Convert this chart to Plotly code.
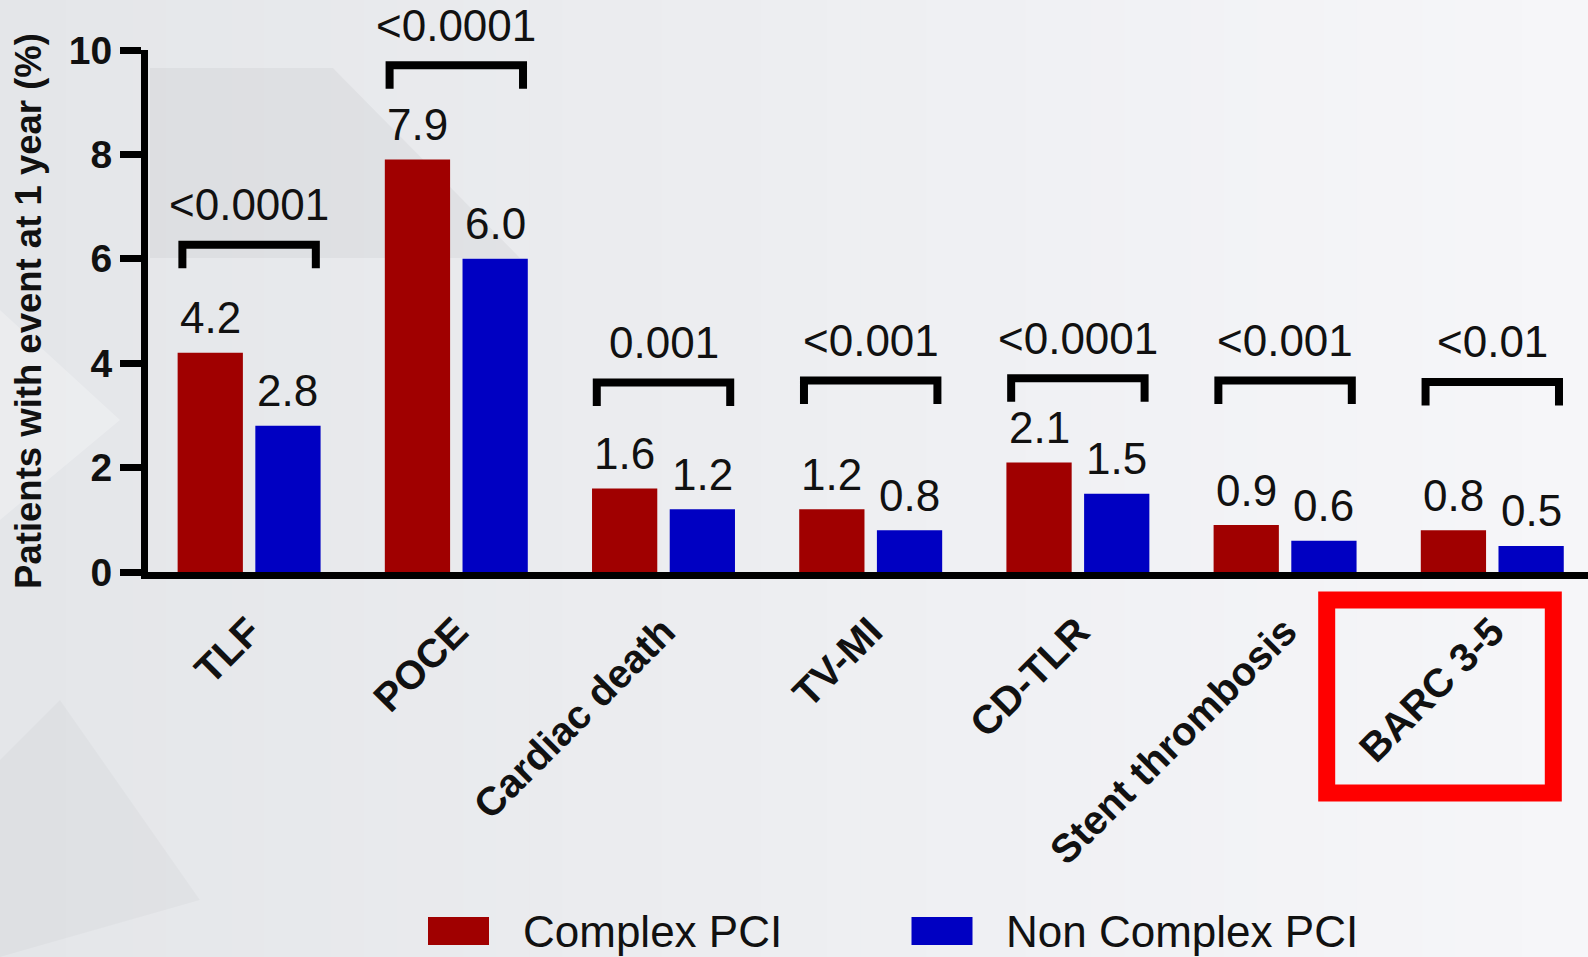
import numpy as np
import plotly.graph_objects as go

# ---------------- data ----------------
categories = ["TLF", "POCE", "Cardiac death", "TV-MI", "CD-TLR", "Stent thrombosis", "BARC 3-5"]
complex_pci = [4.2, 7.9, 1.6, 1.2, 2.1, 0.9, 0.8]
non_complex_pci = [2.8, 6.0, 1.2, 0.8, 1.5, 0.6, 0.5]
p_values = ["<0.0001", "<0.0001", "0.001", "<0.001", "<0.0001", "<0.001", "<0.01"]
bracket_levels = [6.27, 9.71, 3.63, 3.67, 3.71, 3.67, 3.64]
series_names = ["Complex PCI", "Non Complex PCI"]
y_ticks = [0, 2, 4, 6, 8, 10]
y_title = "Patients with event at 1 year (%)"

# ---------------- style ----------------
RED = "#A00000"
BLUE = "#0000C2"
FONT = "Arial, 'Liberation Sans', sans-serif"
W, H = 1588, 957
ML, MR, MT, MB = 148, 0, 50, 385
PW, PH = W - ML - MR, H - MT - MB
BARGAP, GROUPGAP = 0.25, 0.16
SLOT = (1 - BARGAP) / 2
BR_HALF, BR_LEG = 0.322, 0.45


def px(xp):
    return (xp - ML) / PW


def py(yp):
    return (H - MB - yp) / PH


x = np.arange(len(categories))

fig = go.Figure()
fig.add_bar(x=x, y=complex_pci, name=series_names[0], marker_color=RED,
            marker_line_width=0, showlegend=False)
fig.add_bar(x=x, y=non_complex_pci, name=series_names[1], marker_color=BLUE,
            marker_line_width=0, showlegend=False)

shapes = []
annotations = []

# background gradient (light grey, darker on the left)
c0 = np.array([0xE4, 0xE6, 0xE9])
c1 = np.array([0xF6, 0xF6, 0xF9])
N = 48
for k in range(N):
    t = k / (N - 1)
    c = (c0 * (1 - t) + c1 * t).round().astype(int)
    shapes.append(dict(type="rect", xref="paper", yref="paper",
                       x0=px(W * k / N), x1=px(W * (k + 1) / N + 1),
                       y0=py(H + 5), y1=py(-5), line_width=0,
                       fillcolor="rgb(%d,%d,%d)" % tuple(c), layer="below"))

# faint decorative background facets
def poly(points, color):
    d = "M " + " L ".join("%f,%f" % (px(a), py(b)) for a, b in points) + " Z"
    shapes.append(dict(type="path", xref="paper", yref="paper", path=d,
                       line_width=0, fillcolor=color, layer="below"))


poly([(150, 68), (333, 68), (520, 258), (150, 258)], "rgba(0,0,0,0.035)")
poly([(0, 310), (120, 420), (0, 520)], "rgba(255,255,255,0.25)")
poly([(60, 700), (200, 900), (0, 957), (0, 760)], "rgba(0,0,0,0.025)")

# value labels
for i in range(len(categories)):
    for val, off in ((complex_pci[i], -SLOT / 2), (non_complex_pci[i], SLOT / 2)):
        annotations.append(dict(x=x[i] + off, y=val, xref="x", yref="y",
                                text="%.1f" % val, showarrow=False,
                                yanchor="middle", xanchor="center", yshift=35,
                                font=dict(family=FONT, size=44, color="#111111")))

# significance brackets and p-values
for i in range(len(categories)):
    lv = bracket_levels[i]
    x0, x1 = x[i] - BR_HALF, x[i] + BR_HALF
    path = "M %f,%f L %f,%f L %f,%f L %f,%f" % (x0, lv - BR_LEG, x0, lv, x1, lv, x1, lv - BR_LEG)
    shapes.append(dict(type="path", xref="x", yref="y", path=path,
                       line=dict(color="#000000", width=8), layer="above"))
    annotations.append(dict(x=x[i], y=lv, xref="x", yref="y", text=p_values[i],
                            showarrow=False, yanchor="middle", xanchor="center",
                            yshift=40, font=dict(family=FONT, size=44, color="#111111")))

# red highlight box around the last category label
shapes.append(dict(type="rect", xref="paper", yref="paper",
                   x0=px(1326.7), x1=px(1553.3), y0=py(793), y1=py(600),
                   line=dict(color="#FF0000", width=17), fillcolor="rgba(0,0,0,0)",
                   layer="above"))

# legend (large swatches)
for name, col, bx, tx in ((series_names[0], RED, 428, 523), (series_names[1], BLUE, 911.5, 1006)):
    shapes.append(dict(type="rect", xref="paper", yref="paper",
                       x0=px(bx), x1=px(bx + 61), y0=py(945), y1=py(917),
                       line_width=0, fillcolor=col, layer="above"))
    annotations.append(dict(x=px(tx - 2), y=py(931), xref="paper", yref="paper",
                            text=name, showarrow=False, xanchor="left", yanchor="middle",
                            font=dict(family=FONT, size=44, color="#111111")))

fig.update_layout(
    width=W, height=H,
    margin=dict(l=ML, r=MR, t=MT, b=MB, pad=0),
    barmode="group", bargap=BARGAP, bargroupgap=GROUPGAP,
    paper_bgcolor="#EEF0F2", plot_bgcolor="rgba(0,0,0,0)",
    shapes=shapes, annotations=annotations, showlegend=False,
    font=dict(family=FONT, color="#111111"),
)
fig.update_xaxes(range=[-0.488, 6.462], tickmode="array", tickvals=x, ticktext=categories,
                 tickangle=-45, ticks="", showgrid=False, zeroline=False,
                 showline=True, linewidth=7, linecolor="#000000",
                 tickfont=dict(family=FONT, size=40, color="#111111", weight="bold"),
                 ticklabelstandoff=13)
fig.update_yaxes(range=[0, 10], tickmode="array", tickvals=y_ticks,
                 ticks="outside", ticklen=21, tickwidth=7, tickcolor="#000000",
                 showgrid=False, zeroline=False, showline=True, linewidth=7,
                 linecolor="#000000",
                 tickfont=dict(family=FONT, size=39, color="#111111", weight="bold"),
                 title=dict(text=y_title, standoff=19,
                            font=dict(family=FONT, size=36.5, color="#111111", weight="bold")))

fig.write_html("out.html", config={"displayModeBar": False},
               post_script="document.body.style.margin='0';document.body.style.overflow='hidden';")
